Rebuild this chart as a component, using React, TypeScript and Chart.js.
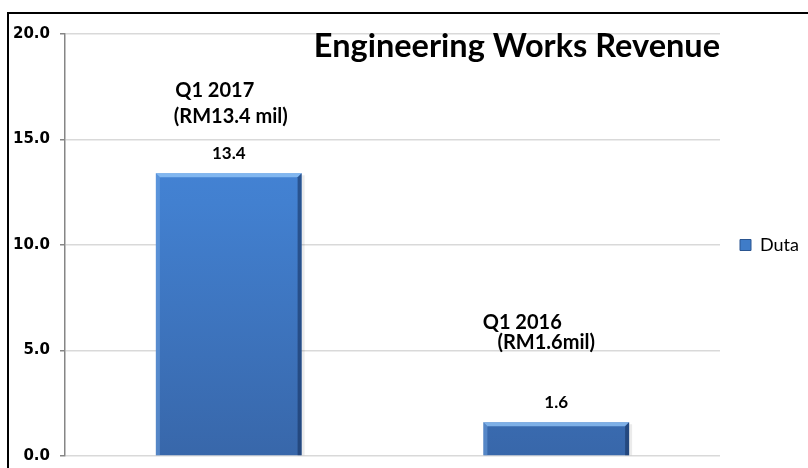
import React, { useEffect, useRef } from "react";
import { Chart, registerables } from "chart.js";

Chart.register(...registerables);

const categories = ["Q1 2017", "Q1 2016"];
const seriesName = "Duta";
const dutaValues = [13.4, 1.6];
const annotationLines = [
  ["Q1 2017", "(RM13.4 mil)"],
  ["Q1 2016", "(RM1.6mil)"],
];
const yMin = 0;
const yMax = 20;
const yStep = 5;
const chartTitle = "Engineering Works Revenue";

// layout of annotation lines: [dx from bar center, y value for baseline]
const annotationLayout = [
  [
    [-14, 17.0],
    [2, 15.8],
  ],
  [
    [-34, 6.0],
    [-10, 5.07],
  ],
];

const TEXT_FONT = "Lato, 'Open Sans', sans-serif";

const decorPlugin = {
  id: "decor",
  beforeDraw(chart: any) {
    const { ctx, width, height } = chart;
    ctx.save();
    ctx.fillStyle = "#ffffff";
    ctx.fillRect(0, 0, width, height);
    ctx.strokeStyle = "#000000";
    ctx.lineWidth = 2;
    ctx.beginPath();
    ctx.moveTo(7, 13);
    ctx.lineTo(width, 13);
    ctx.moveTo(8, 12);
    ctx.lineTo(8, height);
    ctx.stroke();
    ctx.restore();
  },
  afterDatasetsDraw(chart: any) {
    const { ctx, chartArea } = chart;
    const meta = chart.getDatasetMeta(0);
    const yScale = chart.scales.y;
    ctx.save();
    meta.data.forEach((bar: any, i: number) => {
      const w = bar.width;
      const l = bar.x - w / 2;
      const r = bar.x + w / 2;
      const t = bar.y;
      const b = bar.base;
      const bv = 4;
      // shadow on right
      ctx.fillStyle = "rgba(0,0,0,0.08)";
      ctx.fillRect(r, t + 2, 3, b - t - 2);
      // top highlight
      ctx.fillStyle = "rgba(150,200,250,0.75)";
      ctx.beginPath();
      ctx.moveTo(l, t);
      ctx.lineTo(r, t);
      ctx.lineTo(r - bv, t + bv);
      ctx.lineTo(l + bv, t + bv);
      ctx.closePath();
      ctx.fill();
      // left highlight
      ctx.fillStyle = "rgba(120,170,230,0.45)";
      ctx.beginPath();
      ctx.moveTo(l, t);
      ctx.lineTo(l + bv, t + bv);
      ctx.lineTo(l + bv, b);
      ctx.lineTo(l, b);
      ctx.closePath();
      ctx.fill();
      // right shade
      ctx.fillStyle = "rgba(20,45,90,0.55)";
      ctx.beginPath();
      ctx.moveTo(r, t);
      ctx.lineTo(r, b);
      ctx.lineTo(r - bv, b);
      ctx.lineTo(r - bv, t + bv);
      ctx.closePath();
      ctx.fill();

      // value label
      ctx.fillStyle = "#000";
      ctx.font = `bold 17px ${TEXT_FONT}`;
      ctx.textAlign = "center";
      ctx.textBaseline = "alphabetic";
      ctx.fillText(dutaValues[i].toFixed(1), bar.x, t - 14);

      // annotation
      ctx.font = `bold 20px ${TEXT_FONT}`;
      annotationLines[i].forEach((line, j) => {
        const [dx, v] = annotationLayout[i][j];
        ctx.fillText(line, bar.x + dx, yScale.getPixelForValue(v));
      });
    });

    // title inside plot
    ctx.font = `bold 32.5px ${TEXT_FONT}`;
    ctx.textAlign = "right";
    ctx.fillStyle = "#000";
    ctx.fillText(chartTitle, chartArea.right, chartArea.top + 23);
    ctx.restore();
  },
};

export default function App() {
  const ref = useRef<HTMLCanvasElement | null>(null);
  useEffect(() => {
    document.body.style.margin = "0";
    if (!ref.current) return;
    const chart = new Chart(ref.current, {
      type: "bar",
      data: {
        labels: categories,
        datasets: [
          {
            label: seriesName,
            data: dutaValues,
            backgroundColor: (c: any) => {
              const ch = c.chart;
              const area = ch.chartArea;
              if (!area) return "#4380d0";
              const g = ch.ctx.createLinearGradient(0, area.top, 0, area.bottom);
              g.addColorStop(0, "#4a8ade");
              g.addColorStop(0.4, "#4280d0");
              g.addColorStop(1, "#3867aa");
              return g;
            },
            borderWidth: 0,
            barPercentage: 0.445,
            categoryPercentage: 1,
          },
        ],
      },
      options: {
        animation: false,
        responsive: true,
        maintainAspectRatio: false,
        layout: { padding: { top: 34, left: 0, right: 0, bottom: 12 } },
        plugins: {
          title: { display: false },
          tooltip: { enabled: false },
          legend: {
            display: true,
            position: "right",
            maxWidth: 88,
            labels: {
              boxWidth: 11,
              boxHeight: 11,
              padding: 20,
              color: "#000",
              font: { family: TEXT_FONT, size: 18 },
              generateLabels: (ch: any) => [
                {
                  text: seriesName,
                  fillStyle: "#3f7cc8",
                  strokeStyle: "#2a5590",
                  lineWidth: 1,
                  datasetIndex: 0,
                  hidden: false,
                },
              ],
            },
          },
        },
        scales: {
          x: {
            display: false,
            offset: true,
          },
          y: {
            min: yMin,
            max: yMax,
            afterFit: (s: any) => {
              s.width = 65;
              s.paddingTop = 0;
              s.paddingBottom = 0;
            },
            ticks: {
              stepSize: yStep,
              padding: 10,
              color: "#000",
              font: { family: "'DejaVu Sans', Verdana, sans-serif", size: 15, weight: "bold" },
              callback: (v: any) => Number(v).toFixed(1),
            },
            grid: {
              color: "#d9d9d9",
              lineWidth: 1.5,
              tickLength: 5,
              tickColor: "#868686",
            },
            border: { display: true, color: "#868686", width: 1.5 },
          },
        },
      },
      plugins: [decorPlugin],
    });
    return () => chart.destroy();
  }, []);
  return (
    <div style={{ position: "fixed", left: 0, top: 0, width: 808, height: 468 }}>
      <canvas ref={ref} />
    </div>
  );
}
